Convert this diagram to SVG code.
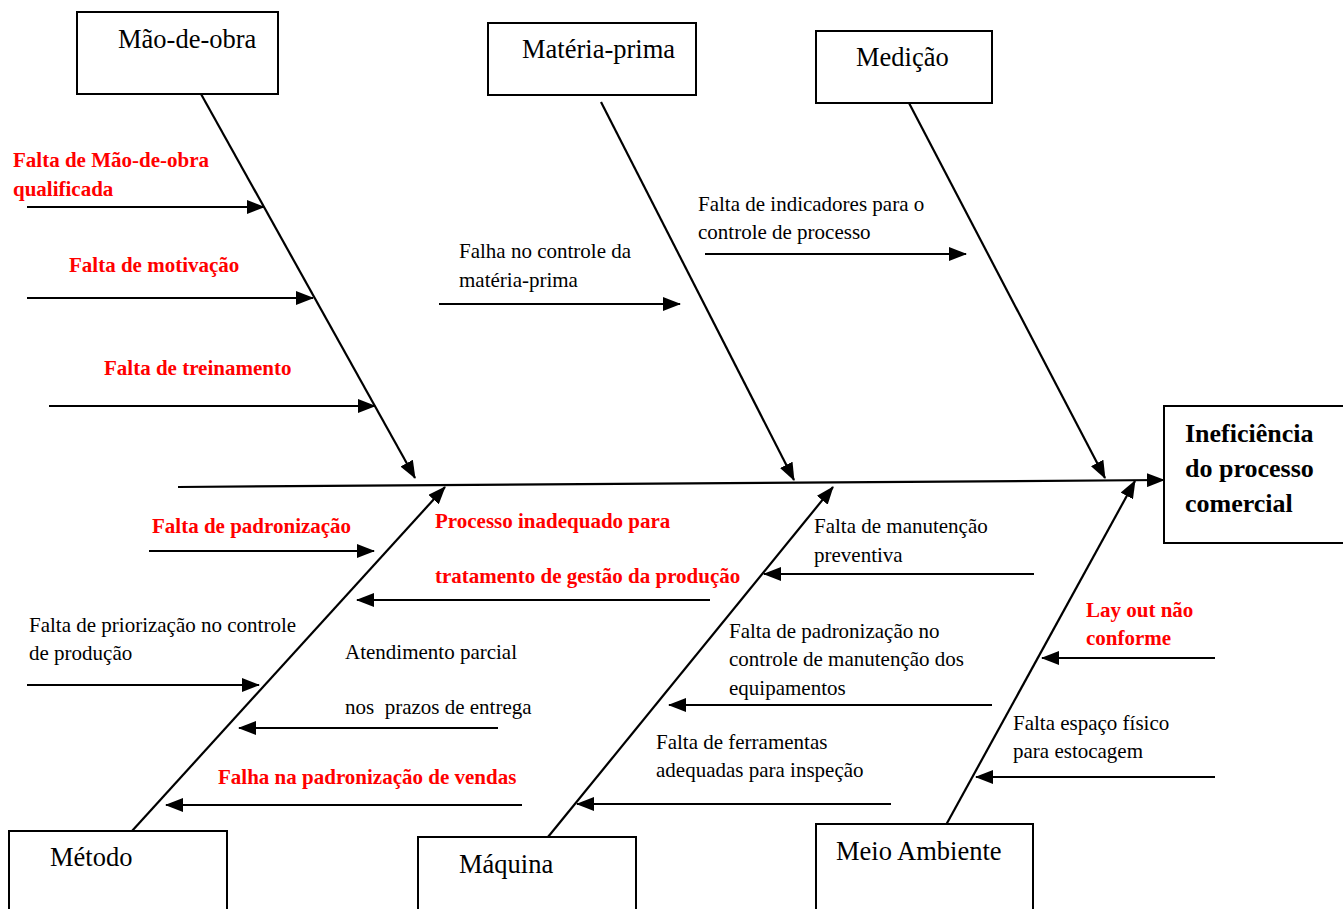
<svg xmlns="http://www.w3.org/2000/svg" width="1343" height="909" viewBox="0 0 1343 909">
<defs>
<marker id="ah" markerUnits="userSpaceOnUse" markerWidth="18" markerHeight="14" refX="17" refY="7" orient="auto">
<path d="M0,0 L18,7 L0,14 Z" fill="#000"/>
</marker>
</defs>
<rect width="1343" height="909" fill="#fff"/>
<g id="connectors" stroke="#000" stroke-width="2.2" fill="none" marker-end="url(#ah)">
<line x1="178" y1="487" x2="1164" y2="480" marker-end="url(#ah)"/>
<line x1="201" y1="94" x2="415" y2="478" marker-end="url(#ah)"/>
<line x1="601" y1="102" x2="794" y2="480" marker-end="url(#ah)"/>
<line x1="909" y1="103" x2="1105" y2="478" marker-end="url(#ah)"/>
<line x1="132" y1="831" x2="445" y2="487" marker-end="url(#ah)"/>
<line x1="548" y1="837" x2="833" y2="487" marker-end="url(#ah)"/>
<line x1="946" y1="825" x2="1135" y2="481" marker-end="url(#ah)"/>
<line x1="27" y1="207" x2="264" y2="207" marker-end="url(#ah)"/>
<line x1="27" y1="298" x2="313" y2="298" marker-end="url(#ah)"/>
<line x1="49" y1="406" x2="375" y2="406" marker-end="url(#ah)"/>
<line x1="439" y1="304" x2="680" y2="304" marker-end="url(#ah)"/>
<line x1="705" y1="254" x2="966" y2="254" marker-end="url(#ah)"/>
<line x1="149" y1="551" x2="374" y2="551" marker-end="url(#ah)"/>
<line x1="710" y1="600" x2="357" y2="600" marker-end="url(#ah)"/>
<line x1="27" y1="685" x2="259" y2="685" marker-end="url(#ah)"/>
<line x1="498" y1="728" x2="239" y2="728" marker-end="url(#ah)"/>
<line x1="522" y1="805" x2="166" y2="805" marker-end="url(#ah)"/>
<line x1="1034" y1="574" x2="764" y2="574" marker-end="url(#ah)"/>
<line x1="992" y1="705" x2="669" y2="705" marker-end="url(#ah)"/>
<line x1="891" y1="804" x2="577" y2="804" marker-end="url(#ah)"/>
<line x1="1215" y1="658" x2="1042" y2="658" marker-end="url(#ah)"/>
<line x1="1215" y1="777" x2="976" y2="777" marker-end="url(#ah)"/>
</g>
<g id="mao-de-obra"><rect x="77" y="12" width="201" height="82" fill="#fff" stroke="#000" stroke-width="2"/><text font-family="Liberation Serif" font-size="26.5" x="118" y="48">Mão-de-obra</text></g>
<g id="materia-prima"><rect x="488" y="23" width="208" height="72" fill="#fff" stroke="#000" stroke-width="2"/><text font-family="Liberation Serif" font-size="26.5" x="522" y="58">Matéria-prima</text></g>
<g id="medicao"><rect x="816" y="31" width="176" height="72" fill="#fff" stroke="#000" stroke-width="2"/><text font-family="Liberation Serif" font-size="26.5" x="856" y="66">Medição</text></g>
<g id="efeito"><rect x="1164" y="406" width="185" height="137" fill="#fff" stroke="#000" stroke-width="2"/><text font-family="Liberation Serif" font-size="26" font-weight="bold" x="1185" y="442">Ineficiência</text><text font-family="Liberation Serif" font-size="26" font-weight="bold" x="1185" y="477">do processo</text><text font-family="Liberation Serif" font-size="26" font-weight="bold" x="1185" y="512">comercial</text></g>
<g id="metodo"><rect x="9" y="831" width="218" height="90" fill="#fff" stroke="#000" stroke-width="2"/><text font-family="Liberation Serif" font-size="26.5" x="50" y="866">Método</text></g>
<g id="maquina"><rect x="418" y="837" width="218" height="90" fill="#fff" stroke="#000" stroke-width="2"/><text font-family="Liberation Serif" font-size="26.5" x="459" y="873">Máquina</text></g>
<g id="meio-ambiente"><rect x="816" y="824" width="217" height="95" fill="#fff" stroke="#000" stroke-width="2"/><text font-family="Liberation Serif" font-size="26.5" x="836" y="860">Meio Ambiente</text></g>
<g id="causes" font-size="21">
<text font-family="Liberation Serif" font-weight="bold" fill="#ff0000" font-size="21" x="13" y="167">Falta de Mão-de-obra</text>
<text font-family="Liberation Serif" font-weight="bold" fill="#ff0000" font-size="21" x="13" y="196">qualificada</text>
<text font-family="Liberation Serif" font-weight="bold" fill="#ff0000" font-size="21" x="69" y="272">Falta de motivação</text>
<text font-family="Liberation Serif" font-weight="bold" fill="#ff0000" font-size="21" x="104" y="375">Falta de treinamento</text>
<text font-family="Liberation Serif" font-size="21" x="459" y="258">Falha no controle da</text>
<text font-family="Liberation Serif" font-size="21" x="459" y="287">matéria-prima</text>
<text font-family="Liberation Serif" font-size="21" x="698" y="211">Falta de indicadores para o</text>
<text font-family="Liberation Serif" font-size="21" x="698" y="239">controle de processo</text>
<text font-family="Liberation Serif" font-weight="bold" fill="#ff0000" font-size="21" x="152" y="533">Falta de padronização</text>
<text font-family="Liberation Serif" font-weight="bold" fill="#ff0000" font-size="21" x="435" y="528">Processo inadequado para</text>
<text font-family="Liberation Serif" font-weight="bold" fill="#ff0000" font-size="21" x="435" y="583">tratamento de gestão da produção</text>
<text font-family="Liberation Serif" font-size="21" x="29" y="632">Falta de priorização no controle</text>
<text font-family="Liberation Serif" font-size="21" x="29" y="660">de produção</text>
<text font-family="Liberation Serif" font-size="21" x="345" y="659">Atendimento parcial</text>
<text font-family="Liberation Serif" font-size="21" x="345" y="714" xml:space="preserve">nos  prazos de entrega</text>
<text font-family="Liberation Serif" font-weight="bold" fill="#ff0000" font-size="21" x="218" y="784">Falha na padronização de vendas</text>
<text font-family="Liberation Serif" font-size="21" x="814" y="533">Falta de manutenção</text>
<text font-family="Liberation Serif" font-size="21" x="814" y="562">preventiva</text>
<text font-family="Liberation Serif" font-size="21" x="729" y="638">Falta de padronização no</text>
<text font-family="Liberation Serif" font-size="21" x="729" y="666">controle de manutenção dos</text>
<text font-family="Liberation Serif" font-size="21" x="729" y="695">equipamentos</text>
<text font-family="Liberation Serif" font-size="21" x="656" y="749">Falta de ferramentas</text>
<text font-family="Liberation Serif" font-size="21" x="656" y="777">adequadas para inspeção</text>
<text font-family="Liberation Serif" font-weight="bold" fill="#ff0000" font-size="21" x="1086" y="617">Lay out não</text>
<text font-family="Liberation Serif" font-weight="bold" fill="#ff0000" font-size="21" x="1086" y="645">conforme</text>
<text font-family="Liberation Serif" font-size="21" x="1013" y="730">Falta espaço físico</text>
<text font-family="Liberation Serif" font-size="21" x="1013" y="758">para estocagem</text>
</g>
</svg>
